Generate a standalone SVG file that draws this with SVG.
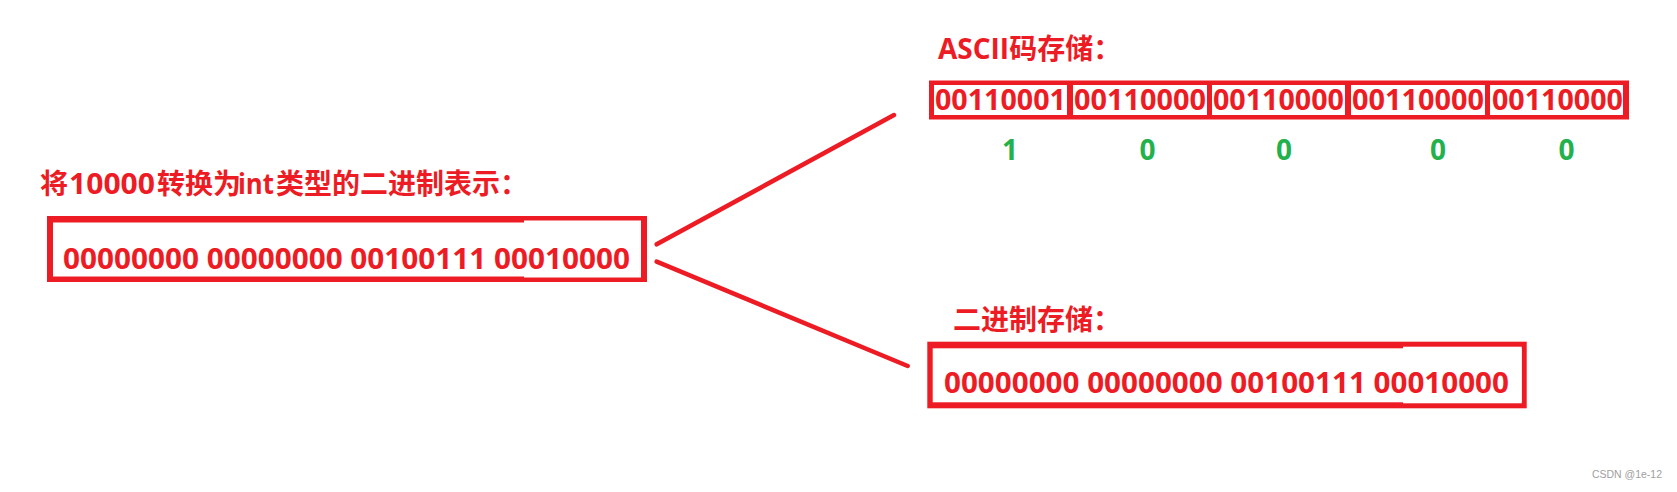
<svg xmlns="http://www.w3.org/2000/svg" width="1677" height="492" viewBox="0 0 1677 492">
<style>
.red{fill:#ed1c24}
.white{fill:#ffffff}
.title{font-family:"Open Sans","Noto Sans CJK SC",sans-serif;font-weight:bold;font-size:28px;fill:#ed1c24}
.cjk{font-family:"Noto Sans CJK SC",sans-serif;font-weight:bold;font-size:28px;fill:#ed1c24}
.bits{font-family:"Open Sans","Noto Sans CJK SC",sans-serif;font-weight:bold;font-size:29px;fill:#ed1c24}
.cellbits{font-family:"Open Sans",sans-serif;font-weight:bold;font-size:29px;fill:#ed1c24}
.green{font-family:"Open Sans",sans-serif;font-weight:bold;font-size:28px;fill:#22b14c;text-anchor:middle}
.conn{stroke:#ed1c24;stroke-width:4.5;stroke-linecap:round;fill:none}
.mark{font-family:"Liberation Sans",sans-serif;font-size:11px;fill:#a0a0a0}
</style>
<rect x="0" y="0" width="1677" height="492" fill="#ffffff"/>

<g id="title-int">
<text class="cjk" y="194"><tspan x="40">将</tspan><tspan class="title" x="69" textLength="86" lengthAdjust="spacingAndGlyphs">10000</tspan><tspan x="157">转换为</tspan><tspan class="title" x="238" textLength="36" lengthAdjust="spacingAndGlyphs">int</tspan><tspan x="276">类型的二进制表示：</tspan></text>
</g>

<g id="node-int">
<rect class="red" x="47" y="216" width="600" height="66"/>
<rect class="white" x="53" y="222.5" width="588" height="54"/>
<rect class="white" x="524" y="220.5" width="117" height="57"/>
<text class="bits" x="63" y="269" textLength="567" lengthAdjust="spacingAndGlyphs">00000000 00000000 00100111 00010000</text>
</g>

<g id="title-ascii">
<text class="title" x="938" y="59">ASCII<tspan class="cjk">码存储：</tspan></text>
</g>

<g id="node-ascii">
<rect class="red" x="929" y="80.5" width="700" height="39"/>
<rect class="white" x="934" y="85" width="133" height="30"/>
<rect class="white" x="1073" y="85" width="134" height="30"/>
<rect class="white" x="1212" y="85" width="133" height="30"/>
<rect class="white" x="1351" y="85" width="134" height="30"/>
<rect class="white" x="1490" y="85" width="133" height="30"/>
<text class="cellbits" x="935" y="110" textLength="131" lengthAdjust="spacingAndGlyphs">00110001</text>
<text class="cellbits" x="1074" y="110" textLength="132" lengthAdjust="spacingAndGlyphs">00110000</text>
<text class="cellbits" x="1213" y="110" textLength="131" lengthAdjust="spacingAndGlyphs">00110000</text>
<text class="cellbits" x="1352" y="110" textLength="132" lengthAdjust="spacingAndGlyphs">00110000</text>
<text class="cellbits" x="1492" y="110" textLength="131" lengthAdjust="spacingAndGlyphs">00110000</text>
</g>

<g id="ascii-chars">
<text class="green" x="1010" y="160">1</text>
<text class="green" x="1147.5" y="160">0</text>
<text class="green" x="1284" y="160">0</text>
<text class="green" x="1438" y="160">0</text>
<text class="green" x="1566.5" y="160">0</text>
</g>

<g id="title-bin">
<text class="cjk" x="953" y="330">二进制存储：</text>
</g>

<g id="node-bin">
<rect class="red" x="927.3" y="341.7" width="599.4" height="66.6"/>
<rect class="white" x="932.7" y="348.3" width="589" height="54"/>
<rect class="white" x="1403" y="346.7" width="118.7" height="56.6"/>
<text class="bits" x="944" y="393.3" textLength="565" lengthAdjust="spacingAndGlyphs">00000000 00000000 00100111 00010000</text>
</g>

<g id="connectors">
<line class="conn" x1="656.7" y1="244.3" x2="894" y2="115"/>
<line class="conn" x1="656.7" y1="261.7" x2="907.7" y2="366"/>
</g>

<text class="mark" x="1592" y="478" textLength="70" lengthAdjust="spacingAndGlyphs">CSDN @1e-12</text>
</svg>
